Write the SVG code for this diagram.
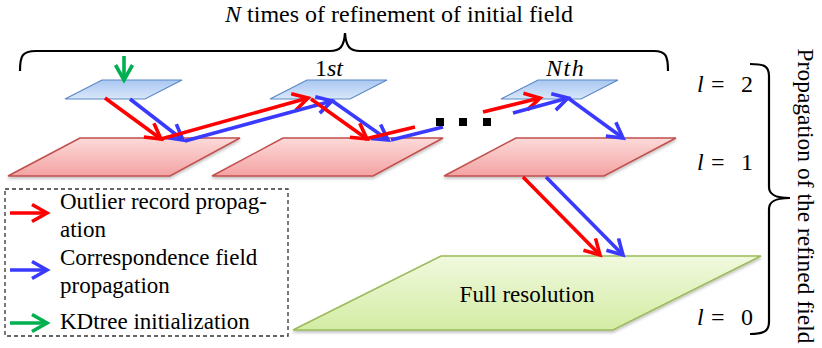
<svg xmlns="http://www.w3.org/2000/svg" width="822" height="348" viewBox="0 0 822 348" font-family="'Liberation Serif', 'Times New Roman', 'DejaVu Serif', serif">
<style>
.t{font-size:23px;font-family:'Liberation Serif','Times New Roman','DejaVu Serif',serif}
.m{font-size:24px;font-family:'Liberation Serif','Times New Roman','DejaVu Serif',serif}
.it{font-style:italic}
.blue{fill:url(#gB);stroke:#5b87c5;stroke-width:1.2}
.red{fill:url(#gR);stroke:#c0504d;stroke-width:1.5}
.green{fill:url(#gG);stroke:#9bbb59;stroke-width:1.5}
.ar{stroke:#ff0000;stroke-width:3.6;fill:none;marker-end:url(#mR)}
.ab{stroke:#3a3aff;stroke-width:3.6;fill:none;marker-end:url(#mB)}
.ag{stroke:#00b050;stroke-width:3.6;fill:none;marker-end:url(#mG)}
.lr{stroke:#ff0000;stroke-width:3.6;fill:none}
.lb{stroke:#3a3aff;stroke-width:3.6;fill:none}
.brace{fill:none;stroke:#000;stroke-width:2.2}
</style>
<defs>
<linearGradient id="gB" x1="0" y1="0" x2="0" y2="1"><stop offset="0" stop-color="#a9c7f1"/><stop offset="1" stop-color="#d9e7fa"/></linearGradient>
<linearGradient id="gR" x1="0" y1="0" x2="0" y2="1"><stop offset="0" stop-color="#fcdada"/><stop offset="1" stop-color="#f4a2a2"/></linearGradient>
<linearGradient id="gG" x1="0" y1="0" x2="0" y2="1"><stop offset="0" stop-color="#f1f9de"/><stop offset="1" stop-color="#d3eca4"/></linearGradient>
<filter id="sh" x="-10%" y="-10%" width="120%" height="140%"><feDropShadow dx="0" dy="2" stdDeviation="1.5" flood-color="#000" flood-opacity="0.25"/></filter>
<marker id="mR" markerUnits="userSpaceOnUse" markerWidth="30" markerHeight="30" viewBox="-20 -15 30 30" refX="0" refY="0" orient="auto"><path d="M-15,-8.5 L0,0 L-15,8.5" fill="none" stroke="#ff0000" stroke-width="3.6"/></marker>
<marker id="mB" markerUnits="userSpaceOnUse" markerWidth="30" markerHeight="30" viewBox="-20 -15 30 30" refX="0" refY="0" orient="auto"><path d="M-15,-8.5 L0,0 L-15,8.5" fill="none" stroke="#3a3aff" stroke-width="3.6"/></marker>
<marker id="mG" markerUnits="userSpaceOnUse" markerWidth="30" markerHeight="30" viewBox="-20 -15 30 30" refX="0" refY="0" orient="auto"><path d="M-15,-8.5 L0,0 L-15,8.5" fill="none" stroke="#00b050" stroke-width="3.6"/></marker>
</defs>

<text id="title" class="t" x="399" y="22" text-anchor="middle" style="font-size:24px"><tspan class="it">N</tspan> times of refinement of initial field</text>
<path id="topBrace" class="brace" d="M20,71 C20,56 22,51 36,51 L330,51 C340,51 344,47 345,33 C346,47 350,51 360,51 L654,51 C666,51 668,56 668,71"/>

<g id="level0"><polygon class="green" filter="url(#sh)" points="441,256 761,256 613,330 293,330"/><text class="t" x="527" y="302" text-anchor="middle">Full resolution</text></g>

<g id="level1a"><polygon class="red" filter="url(#sh)" points="80,138 240,138 170,176 8,176"/></g>
<g id="level1b"><polygon class="red" filter="url(#sh)" points="283,138 443,138 373,176 212,176"/></g>
<g id="level1c"><polygon class="red" filter="url(#sh)" points="516,138 676,138 604,176 444,176"/></g>

<g id="level2a"><polygon class="blue" points="102,80 182,80 145,99 65,99"/></g>
<g id="level2b"><polygon class="blue" points="307,80 387,80 350,99 270,99"/><text class="m" x="315" y="76"><tspan>1</tspan><tspan class="it">st</tspan></text></g>
<g id="level2c"><polygon class="blue" points="538,80 618,80 581,99 501,99"/><text class="m it" x="546" y="76" letter-spacing="1.5">Nth</text></g>

<g id="connectors">
<line class="ag" x1="124" y1="56" x2="124" y2="80"/>
<line class="ar" x1="105" y1="98" x2="161" y2="139"/>
<line class="ab" x1="130" y1="99" x2="183" y2="140"/>
<line class="ar" x1="161" y1="139" x2="308" y2="98"/>
<line class="ab" x1="185" y1="141" x2="332" y2="101"/>
<line class="ar" x1="311" y1="99" x2="367" y2="139"/>
<line class="ab" x1="331" y1="100" x2="388" y2="140"/>
<line class="lr" x1="365" y1="139" x2="415" y2="127"/>
<line class="lb" x1="391" y1="140" x2="443" y2="127"/>
<line class="ar" x1="483" y1="112" x2="540" y2="98"/>
<line class="ab" x1="513" y1="113" x2="568" y2="98"/>
<line class="ab" x1="568" y1="98" x2="623" y2="138"/>
<line class="ar" x1="523" y1="177" x2="600" y2="255"/>
<line class="ab" x1="546" y1="177" x2="623" y2="255"/>
</g>

<g id="dots" fill="#000"><rect x="436" y="118" width="8" height="8"/><rect x="459" y="118" width="8" height="8"/><rect x="483" y="118" width="8" height="8"/></g>

<g id="levels">
<text class="m" y="92"><tspan class="it" x="697">l</tspan><tspan x="711">=</tspan><tspan x="741">2</tspan></text>
<text class="m" y="170"><tspan class="it" x="697">l</tspan><tspan x="711">=</tspan><tspan x="741">1</tspan></text>
<text class="m" y="325"><tspan class="it" x="697">l</tspan><tspan x="711">=</tspan><tspan x="741">0</tspan></text>
</g>
<path id="rightBrace" class="brace" d="M750,64 C764,64 769,66 769,76 L769,187 C769,194 774,198 790,198 C774,198 769,202 769,209 L769,322 C769,331 764,334 750,334"/>
<text id="sideLabel" class="t" transform="translate(798,196) rotate(90)" text-anchor="middle" style="font-size:23.5px">Propagation of the refined field</text>

<g id="legend">
<rect x="5" y="189" width="283" height="147" fill="none" stroke="#333" stroke-width="1.3" stroke-dasharray="4,3"/>
<line class="ar" x1="10" y1="213" x2="47" y2="213"/>
<line class="ab" x1="10" y1="270" x2="47" y2="270"/>
<line class="ag" x1="10" y1="323" x2="47" y2="323"/>
<text class="t" x="60" y="209">Outlier record propag-</text>
<text class="t" x="60" y="237">ation</text>
<text class="t" x="60" y="265">Correspondence field</text>
<text class="t" x="60" y="293">propagation</text>
<text class="t" x="60" y="329">KDtree initialization</text>
</g>
</svg>
